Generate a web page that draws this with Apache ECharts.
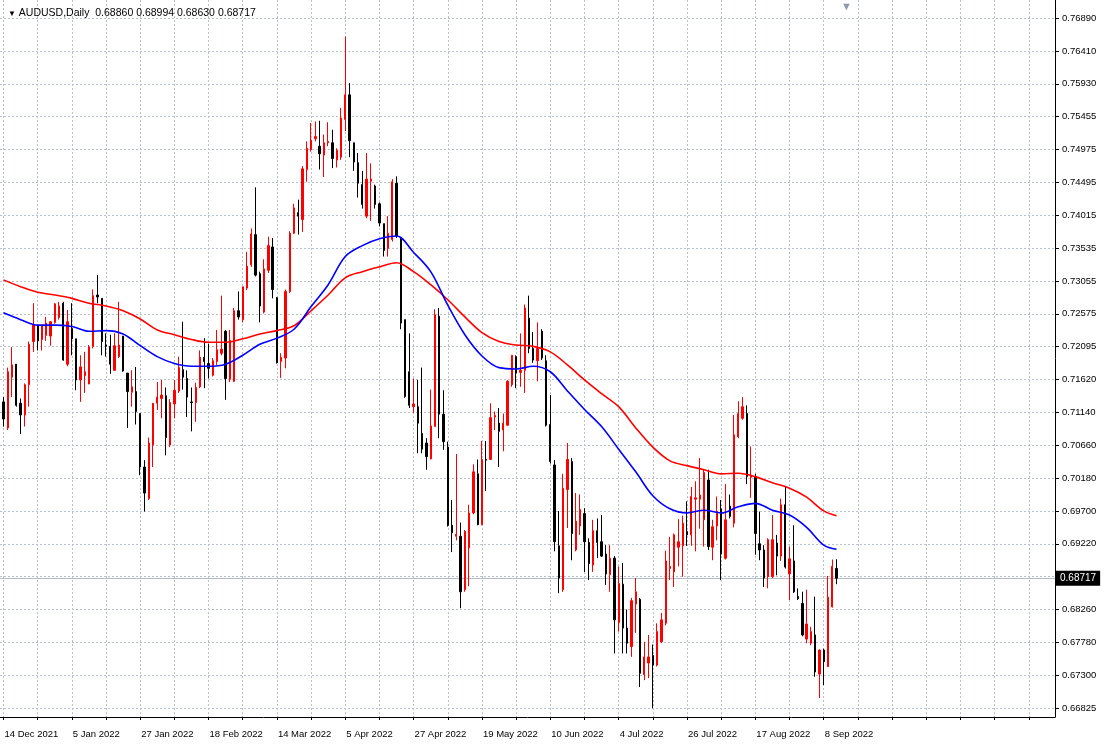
<!DOCTYPE html>
<html><head><meta charset="utf-8">
<script src="https://cdn.jsdelivr.net/npm/echarts@6/dist/echarts.min.js"></script>
<style>html,body{margin:0;padding:0;background:#fff;}#c{width:1106px;height:744px;}</style>
</head><body><div id="c"></div>
<script>
// ---- data ----
const chartTitle = 'AUDUSD,Daily';
const lastBarOHLC = [0.68860, 0.68994, 0.68630, 0.68717];
const lastPrice = 0.68717;
// date labels, one every 16 daily bars starting with bar 0
const dateLabels = ['14 Dec 2021','5 Jan 2022','27 Jan 2022','18 Feb 2022','14 Mar 2022','5 Apr 2022','27 Apr 2022','19 May 2022','10 Jun 2022','4 Jul 2022','26 Jul 2022','17 Aug 2022','8 Sep 2022'];
const priceTicks = [0.66825,0.67300,0.67780,0.68260,0.68740,0.69220,0.69700,0.70180,0.70660,0.71140,0.71620,0.72095,0.72575,0.73055,0.73535,0.74015,0.74495,0.74975,0.75455,0.75930,0.76410,0.76890];
const priceLabels = [0.66825,0.67300,0.67780,0.68260,0.69220,0.69700,0.70180,0.70660,0.71140,0.71620,0.72095,0.72575,0.73055,0.73535,0.74015,0.74495,0.74975,0.75455,0.75930,0.76410,0.76890];

const opens = [.7129,.7091,.7165,.7184,.7127,.7110,.7154,.7217,.7240,.7220,.7226,.7225,.7245,.7252,.7273,.7184,.7236,.7221,.7161,.7167,
.7155,.7210,.7285,.7280,.7212,.7210,.7175,.7195,.7225,.7171,.7143,.7144,.7112,.7034,.6988,.7066,.7127,.7134,.7138,.7066,
.7126,.7145,.7176,.7163,.7129,.7128,.7151,.7194,.7185,.7168,.7188,.7200,.7232,.7162,.7159,.7262,.7249,.7295,.7329,.7373,
.7316,.7260,.7321,.7355,.7281,.7188,.7193,.7290,.7375,.7405,.7395,.7468,.7497,.7513,.7502,.7489,.7507,.7507,.7482,.7486,
.7541,.7577,.7507,.7478,.7446,.7400,.7451,.7444,.7418,.7389,.7353,.7366,.7448,.7369,.7249,.7173,.7122,.7122,.7083,.7069,
.7046,.7093,.7254,.7111,.7063,.6949,.6933,.6933,.6855,.6916,.6967,.7024,.6950,.7045,.7045,.7107,.7098,.7088,.7095,.7154,
.7195,.7172,.7175,.7251,.7207,.7189,.7232,.7189,.7096,.7037,.6919,.6855,.7001,.7042,.6913,.6948,.6966,.6924,.6891,.6941,
.6925,.6907,.6877,.6901,.6807,.6863,.6799,.6772,.6834,.6841,.6731,.6748,.6759,.6745,.6779,.6806,.6886,.6881,.6917,.6919,
.6940,.6935,.6987,.6987,.6957,.7015,.6917,.6948,.6973,.6901,.6977,.6952,.7078,.7105,.7112,.7019,.7020,.6922,.6913,.6874,
.6874,.6923,.6904,.6979,.6878,.6897,.6845,.6835,.6783,.6777,.6789,.6732,.6767,.6743,.6830,.68860];
const closes = [.7104,.7173,.7183,.7124,.7110,.7154,.7213,.7241,.7218,.7240,.7244,.7246,.7272,.7269,.7190,.7246,.7221,.7161,.7180,.7173,
.7209,.7284,.7282,.7217,.7210,.7184,.7211,.7212,.7174,.7144,.7151,.7115,.7034,.6996,.7069,.7127,.7136,.7139,.7077,.7128,
.7146,.7179,.7165,.7136,.7128,.7150,.7194,.7188,.7178,.7189,.7205,.7206,.7163,.7219,.7262,.7253,.7297,.7327,.7374,.7314,
.7269,.7323,.7357,.7293,.7186,.7194,.7290,.7375,.7412,.7400,.7469,.7499,.7511,.7516,.7491,.7507,.7509,.7484,.7496,.7543,
.7577,.7510,.7479,.7448,.7417,.7454,.7454,.7417,.7390,.7350,.7375,.7450,.7371,.7244,.7137,.7124,.7126,.7098,.7060,.7049,
.7094,.7256,.7111,.7071,.6949,.6938,.6936,.6852,.6940,.6967,.7027,.6950,.7045,.7044,.7106,.7109,.7086,.7098,.7159,.7197,
.7171,.7175,.7266,.7207,.7190,.7207,.7193,.7095,.7042,.6925,.6872,.7003,.7045,.6937,.6955,.6972,.6925,.6893,.6941,.6924,
.6904,.6878,.6901,.6811,.6864,.6799,.6777,.6839,.6852,.6733,.6757,.6757,.6745,.6794,.6811,.6897,.6889,.6935,.6925,.6952,
.6935,.6991,.6989,.6993,.7026,.6918,.6947,.6969,.6907,.6957,.6962,.7081,.7112,.7122,.7020,.7022,.6937,.6913,.6872,.6928,
.6928,.6904,.6979,.6888,.6900,.6852,.6842,.6789,.6805,.6794,.6735,.6767,.6750,.6844,.6889,.68717];
const lows = [.7093,.7088,.7136,.7122,.7082,.7093,.7122,.7202,.7204,.7204,.7218,.7211,.7243,.7249,.7189,.7181,.7197,.7146,.7129,.7142,
.7155,.7207,.7273,.7197,.7195,.7170,.7175,.7193,.7173,.7091,.7122,.7096,.7022,.6969,.6986,.7034,.7117,.7105,.7051,.7063,
.7105,.7142,.7147,.7107,.7086,.7100,.7149,.7149,.7163,.7166,.7183,.7197,.7132,.7158,.7158,.7249,.7245,.7292,.7326,.7312,
.7245,.7258,.7317,.7280,.7185,.7164,.7178,.7288,.7374,.7373,.7377,.7450,.7494,.7509,.7468,.7457,.7502,.7470,.7471,.7482,
.7524,.7486,.7466,.7427,.7411,.7397,.7393,.7411,.7385,.7341,.7341,.7363,.7368,.7235,.7135,.7120,.7113,.7054,.7054,.7030,
.7045,.7093,.7076,.7059,.6947,.6910,.6927,.6828,.6852,.6860,.6965,.6949,.6949,.6999,.7045,.7088,.7034,.7057,.7094,.7151,
.7149,.7151,.7142,.7200,.7186,.7159,.7190,.7093,.7039,.6911,.6850,.6852,.6945,.6898,.6911,.6935,.6881,.6869,.6881,.6901,
.6903,.6862,.6852,.6762,.6794,.6762,.6762,.6757,.6792,.6713,.6723,.6726,.6682,.6743,.6777,.6803,.6869,.6859,.6889,.6874,
.6919,.6919,.6911,.6944,.6918,.6913,.6898,.6927,.6869,.6899,.6959,.6946,.7076,.7103,.7009,.6989,.6906,.6898,.6859,.6857,
.6872,.6876,.6897,.6886,.6840,.6850,.6840,.6787,.6777,.6774,.6728,.6697,.6716,.6742,.6829,.68630];
const highs = [.7136,.7179,.7209,.7184,.7134,.7156,.7217,.7273,.7241,.7241,.7253,.7246,.7273,.7275,.7275,.7263,.7273,.7221,.7197,.7202,
.7212,.7293,.7314,.7280,.7229,.7227,.7229,.7275,.7225,.7171,.7175,.7180,.7112,.7044,.7077,.7127,.7158,.7161,.7150,.7133,
.7161,.7195,.7246,.7175,.7150,.7157,.7204,.7222,.7214,.7193,.7234,.7284,.7234,.7234,.7266,.7290,.7297,.7348,.7382,.7442,
.7319,.7337,.7370,.7368,.7282,.7200,.7293,.7378,.7418,.7424,.7473,.7509,.7536,.7538,.7539,.7519,.7537,.7526,.7499,.7558,
.7662,.7594,.7507,.7492,.7466,.7492,.7477,.7446,.7420,.7389,.7400,.7454,.7458,.7369,.7249,.7229,.7163,.7161,.7179,.7076,
.7147,.7264,.7266,.7146,.7071,.6986,.7053,.6953,.6942,.6979,.7038,.7045,.7072,.7072,.7127,.7115,.7120,.7112,.7161,.7197,
.7197,.7229,.7271,.7284,.7231,.7245,.7235,.7197,.7139,.7044,.6970,.7024,.7069,.7047,.6996,.6994,.6974,.6930,.6957,.6959,
.6964,.6920,.6920,.6904,.6889,.6894,.6826,.6843,.6872,.6843,.6779,.6789,.6775,.6806,.6821,.6912,.6932,.6937,.6958,.6963,
.6984,.7005,.7013,.7047,.7030,.7030,.6957,.6991,.6986,.7009,.6994,.7110,.7130,.7136,.7124,.7064,.7024,.6969,.6920,.6930,
.6964,.6935,.6988,.7005,.6918,.6949,.6857,.6852,.6855,.6801,.6845,.6768,.6769,.6875,.6899,.68994];
// moving averages read at these bar positions
const maBars = [0,4,8,12,16,20,24,28,32,36,40,44,48,52,56,60,64,68,72,76,80,84,88,92,96,100,104,108,112,116,120,124,128,132,136,140,144,148,152,156,160,164,168,172,176,180,184,188,192,195];
const maBlue = [.7259,.7249,.7241,.7241,.7239,.7232,.7233,.7228,.7211,.7195,.7185,.7181,.7181,.7184,.7197,.7213,.7222,.7235,.7268,.7300,
.7341,.7357,.7367,.7371,.7347,.7319,.7270,.7227,.7196,.7179,.7177,.7181,.7173,.7145,.7118,.7093,.7060,.7027,.6992,.6973,
.6967,.6971,.6967,.6976,.6981,.6971,.6964,.6946,.6920,.6914];
const maRed = [.7307,.7297,.7289,.7285,.7280,.7273,.7269,.7262,.7250,.7234,.7227,.7220,.7216,.7216,.7221,.7228,.7233,.7240,.7262,.7285,
.7310,.7319,.7326,.7332,.7319,.7300,.7278,.7253,.7230,.7217,.7212,.7210,.7202,.7183,.7161,.7141,.7122,.7091,.7063,.7043,
.7036,.7030,.7024,.7025,.7020,.7011,.7003,.6990,.6970,.6963];

// ---- chart ----
const FONT = 'Liberation Sans';
const candles = opens.map((o, i) => [i, o, closes[i], lows[i], highs[i]]);
const blueLine = maBars.map((b, k) => [b, maBlue[k]]);
const redLine = maBars.map((b, k) => [b, maRed[k]]);
const labelBars = dateLabels.map((d, k) => k * 16);
const gridBars = [];
for (let b = 0; b <= 240; b += 8) gridBars.push(b);
const gridColor = '#b9c1cd';

const chart = echarts.init(document.getElementById('c'), null, {renderer: 'canvas'});
chart.setOption({
  animation: false,
  backgroundColor: '#ffffff',
  textStyle: {fontFamily: FONT},
  title: [{
    text: '{t|▼} ' + chartTitle + '  ' + lastBarOHLC.map(v => v.toFixed(5)).join(' '),
    left: 3, top: 3,
    textStyle: {fontSize: 10.5, fontWeight: 'normal', color: '#000', fontFamily: FONT,
      rich: {t: {fontSize: 8, color: '#000'}}}
  }, {
    text: '▼', left: 836, top: -4,
    textStyle: {fontSize: 11, fontWeight: 'normal', color: '#8e9bae'}
  }],
  grid: {left: 0, right: 51, top: 0, bottom: 27, show: false},
  xAxis: {
    type: 'value', min: -0.82, max: 246.14,
    axisLine: {show: true, onZero: false, lineStyle: {color: '#000', width: 1}},
    axisTick: {show: true, length: 3, customValues: gridBars, lineStyle: {color: '#000'}},
    axisLabel: {
      customValues: labelBars,
      formatter: v => dateLabels[Math.round(v / 16)] || '',
      align: 'left', margin: 12, color: '#000', fontSize: 9.5, fontFamily: FONT, padding: [0, 0, 0, 1]
    },
    splitLine: {show: true, lineStyle: {color: gridColor, width: 1, type: [2, 2]}}
  },
  yAxis: {
    type: 'value', position: 'right', min: 0.66693, max: 0.77153,
    axisLine: {show: true, onZero: false, lineStyle: {color: '#000', width: 1}},
    axisTick: {show: true, length: 4, customValues: priceTicks, lineStyle: {color: '#000'}},
    axisLabel: {customValues: priceLabels, formatter: v => v.toFixed(5), margin: 7, color: '#000', fontSize: 9.5, fontFamily: FONT},
    splitLine: {show: true, lineStyle: {color: gridColor, width: 1, type: [2, 2]}}
  },
  series: [{
    type: 'candlestick',
    data: candles,
    barWidth: 1.8,
    itemStyle: {color: '#ff0000', color0: '#000000', borderColor: '#ff0000', borderColor0: '#000000', borderWidth: 1},
    z: 3
  }, {
    type: 'line', data: redLine, showSymbol: false, smooth: 0.35,
    lineStyle: {color: '#ff0000', width: 1.6}, z: 4,
    markLine: {
      silent: true, symbol: ['none', 'none'], animation: false, precision: 5,
      data: [{yAxis: lastPrice}],
      lineStyle: {color: '#b4bfcc', type: 'solid', width: 1.2},
      label: {position: 'end', formatter: () => lastPrice.toFixed(5), distance: 1,
        backgroundColor: '#000', color: '#fff', fontSize: 10, fontFamily: FONT, padding: [3, 4, 2, 4]},
      z: 2
    }
  }, {
    type: 'line', data: blueLine, showSymbol: false, smooth: 0.35,
    lineStyle: {color: '#0000ff', width: 1.6}, z: 4
  }]
});
</script></body></html>
